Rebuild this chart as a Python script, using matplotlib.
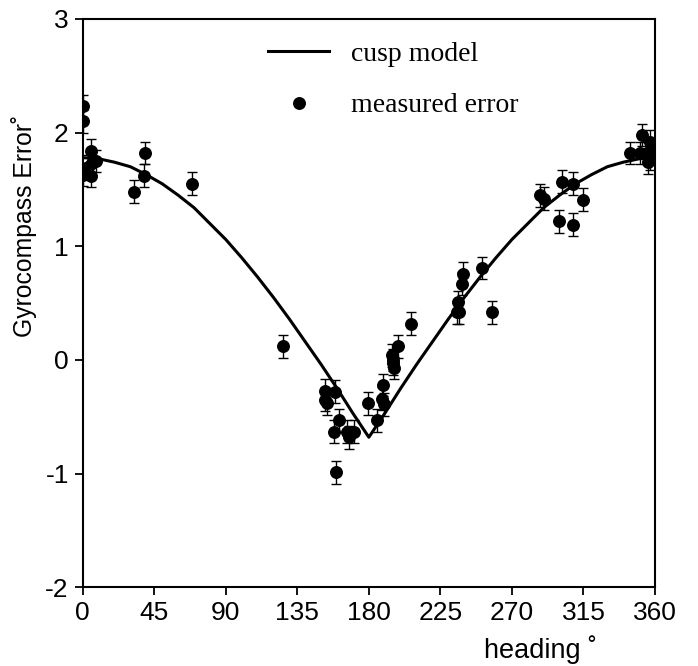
import numpy as np
import matplotlib
matplotlib.use("Agg")
import matplotlib.pyplot as plt
from matplotlib.lines import Line2D

# cusp model curve, every 10 degrees
model_heading = list(range(0, 361, 10))
model_error = [1.78, 1.77, 1.74, 1.70, 1.63, 1.55, 1.45, 1.34, 1.20, 1.06,
               0.90, 0.73, 0.55, 0.36, 0.16, -0.04, -0.25, -0.47, -0.68,
               -0.47, -0.25, -0.04, 0.16, 0.36, 0.55, 0.73, 0.90, 1.06,
               1.20, 1.34, 1.45, 1.55, 1.63, 1.70, 1.74, 1.77, 1.78]

# measured points
heading = [0, 0, 0, 5.5, 3.5, 8.5, 6, 5.5,
           32.5, 39, 38.5, 68.5,
           126,
           152.4, 152.4, 158.7, 153.5, 161.4, 158.2, 159.3, 166, 170.5, 167.5,
           179.5, 185.3, 188.5, 189.5, 189,
           194.5, 195.5, 195, 196, 198.5, 206.3,
           235.2, 236.5, 236.2, 238.7, 239.4, 250.9, 257.2,
           287.6, 290.3, 301.3, 308.2, 314.5, 299.4, 308.2,
           344.2, 350.5, 351.6, 354.7, 356.8, 356.8, 355.7, 357.9]
measured = [2.23, 2.10, 1.63, 1.84, 1.70, 1.75, 1.73, 1.62,
            1.48, 1.82, 1.62, 1.55,
            0.12,
            -0.27, -0.35, -0.28, -0.38, -0.53, -0.63, -0.99, -0.63, -0.63, -0.68,
            -0.38, -0.53, -0.34, -0.39, -0.22,
            0.04, 0.00, -0.03, -0.07, 0.12, 0.32,
            0.42, 0.42, 0.51, 0.67, 0.76, 0.81, 0.42,
            1.45, 1.42, 1.57, 1.55, 1.41, 1.22, 1.19,
            1.82, 1.82, 1.98, 1.82, 1.92, 1.77, 1.74, 1.82]
error_bar = 0.1

x_ticks = [0, 45, 90, 135, 180, 225, 270, 315, 360]
y_ticks = [-2, -1, 0, 1, 2, 3]

plt.rcParams['font.family'] = ['Liberation Sans', 'DejaVu Sans']
plt.rcParams['axes.unicode_minus'] = False

fig = plt.figure(figsize=(6.98, 6.66), dpi=100)
ax = fig.add_axes([0.1185, 0.1182, 0.8199, 0.8533])

ax.plot(model_heading, model_error, color='black', lw=2.2, zorder=3)
ax.errorbar(heading, measured, yerr=error_bar, fmt='o', color='black',
            ms=8.3, elinewidth=1, capsize=3.8, capthick=1, zorder=4)

ax.set_xlim(0, 360)
ax.set_ylim(-2, 3)
ax.set_xticks(x_ticks)
ax.set_yticks(y_ticks)
ax.tick_params(direction='out', length=6, width=1.3, labelsize=19, pad=4,
               top=False, right=False)
for s in ax.spines.values():
    s.set_linewidth(1.5)

ax.set_xlabel('heading ˚', fontsize=19.5)
ax.xaxis.set_label_coords(0.80, -0.085)
ax.set_ylabel('Gyrocompass Error˚', fontsize=17.8)
ax.yaxis.set_label_coords(-0.08, 0.636)

handles = [Line2D([], [], color='black', lw=2.2),
           Line2D([], [], color='black', marker='o', ls='none', ms=8.3)]
ax.legend(handles, ['cusp model', 'measured error'], loc='upper left',
          bbox_to_anchor=(0.324, 0.961), frameon=False, borderpad=0,
          borderaxespad=0, handlelength=2.2, handletextpad=0.8,
          labelspacing=0.95, prop={'family': 'Liberation Serif', 'size': 20})

fig.savefig('out.png', dpi=100)
